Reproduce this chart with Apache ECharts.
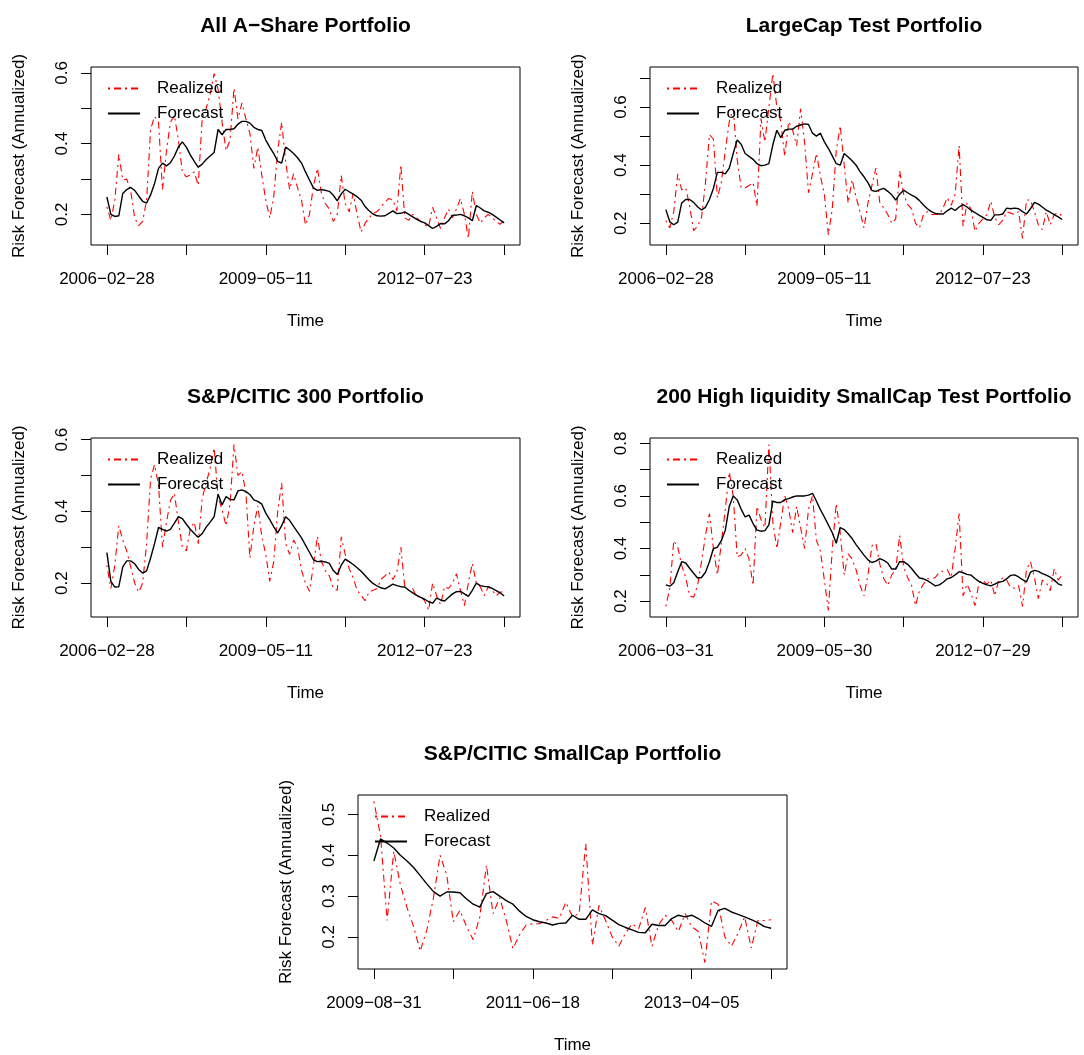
<!DOCTYPE html>
<html lang="en">
<head>
    <meta charset="UTF-8">
    <title>Risk Forecast vs Realized</title>
    <script src="https://cdn.jsdelivr.net/npm/echarts@6.0.0/dist/echarts.min.js"></script>
    <style>
        html, body { margin: 0; padding: 0; background: #fff; }
        #main { width: 1084px; height: 1055px; }
    </style>
</head>
<body>
<div id="main"></div>
<script type="application/javascript">
    var allAShareRealized = [
        0.221,0.183,0.240,0.370,0.297,0.300,0.265,0.190,0.168,0.180,
        0.240,0.440,0.477,0.460,0.270,0.380,0.460,0.480,0.410,0.320,
        0.306,0.311,0.320,0.282,0.472,0.500,0.540,0.598,0.553,0.460,
        0.380,0.410,0.557,0.470,0.515,0.470,0.429,0.330,0.390,0.310,
        0.240,0.190,0.250,0.380,0.460,0.350,0.270,0.315,0.275,0.240,
        0.170,0.200,0.280,0.330,0.260,0.230,0.215,0.180,0.200,0.310,
        0.230,0.207,0.259,0.200,0.150,0.175,0.190,0.202,0.208,0.220,
        0.235,0.245,0.240,0.210,0.340,0.190,0.183,0.200,0.190,0.180,
        0.170,0.165,0.220,0.190,0.160,0.190,0.215,0.190,0.215,0.245,
        0.200,0.132,0.265,0.200,0.175,0.190,0.200,0.190,0.180,0.172,
        0.183
    ];
    var allAShareForecast = [
        0.249,0.200,0.194,0.196,0.259,0.270,0.276,0.268,0.252,0.237,
        0.232,0.255,0.287,0.330,0.345,0.337,0.346,0.365,0.390,0.405,
        0.390,0.368,0.350,0.333,0.342,0.355,0.365,0.375,0.440,0.425,
        0.440,0.440,0.442,0.455,0.463,0.463,0.458,0.446,0.440,0.437,
        0.410,0.390,0.372,0.350,0.345,0.390,0.382,0.372,0.360,0.345,
        0.320,0.297,0.275,0.268,0.270,0.268,0.265,0.254,0.238,0.258,
        0.271,0.264,0.257,0.250,0.240,0.222,0.210,0.201,0.196,0.195,
        0.196,0.203,0.210,0.202,0.203,0.207,0.200,0.193,0.186,0.180,
        0.176,0.168,0.160,0.166,0.174,0.173,0.182,0.197,0.198,0.200,
        0.196,0.190,0.182,0.225,0.218,0.210,0.206,0.200,0.192,0.184,
        0.176
    ];
    var largeCapRealized = [
        0.210,0.184,0.240,0.370,0.315,0.322,0.260,0.175,0.190,0.220,
        0.340,0.505,0.490,0.288,0.340,0.450,0.550,0.594,0.420,0.322,
        0.322,0.330,0.340,0.259,0.560,0.480,0.600,0.715,0.600,0.550,
        0.430,0.550,0.520,0.467,0.594,0.480,0.305,0.370,0.440,0.363,
        0.300,0.160,0.250,0.450,0.536,0.400,0.270,0.350,0.290,0.240,
        0.184,0.270,0.330,0.390,0.270,0.253,0.230,0.200,0.215,0.380,
        0.300,0.265,0.250,0.200,0.184,0.230,0.240,0.230,0.230,0.230,
        0.255,0.288,0.262,0.300,0.467,0.190,0.270,0.250,0.172,0.200,
        0.215,0.230,0.276,0.220,0.195,0.210,0.240,0.235,0.230,0.240,
        0.148,0.280,0.280,0.240,0.195,0.178,0.240,0.195,0.230,0.236,
        0.225
    ];
    var largeCapForecast = [
        0.247,0.205,0.195,0.204,0.270,0.282,0.282,0.272,0.257,0.246,
        0.255,0.282,0.320,0.375,0.375,0.370,0.390,0.440,0.487,0.472,
        0.440,0.430,0.420,0.405,0.398,0.400,0.405,0.470,0.520,0.495,
        0.520,0.524,0.524,0.534,0.538,0.542,0.540,0.510,0.500,0.510,
        0.480,0.458,0.432,0.405,0.400,0.440,0.428,0.415,0.400,0.378,
        0.360,0.340,0.313,0.310,0.316,0.320,0.310,0.298,0.280,0.300,
        0.314,0.305,0.297,0.290,0.278,0.263,0.250,0.240,0.234,0.232,
        0.232,0.243,0.252,0.244,0.256,0.264,0.256,0.245,0.237,0.228,
        0.220,0.212,0.210,0.229,0.229,0.232,0.252,0.250,0.252,0.250,
        0.240,0.232,0.250,0.272,0.266,0.256,0.245,0.238,0.230,0.222,
        0.213
    ];
    var csi300Realized = [
        0.250,0.185,0.250,0.360,0.320,0.290,0.245,0.200,0.175,0.200,
        0.310,0.490,0.530,0.474,0.300,0.370,0.430,0.450,0.370,0.300,
        0.290,0.352,0.370,0.310,0.436,0.480,0.520,0.577,0.440,0.405,
        0.360,0.420,0.586,0.500,0.511,0.450,0.270,0.360,0.415,0.330,
        0.280,0.205,0.260,0.400,0.479,0.310,0.280,0.320,0.300,0.235,
        0.200,0.177,0.250,0.330,0.260,0.235,0.220,0.185,0.180,0.329,
        0.280,0.240,0.215,0.180,0.165,0.151,0.175,0.180,0.184,0.210,
        0.220,0.231,0.210,0.231,0.300,0.189,0.180,0.185,0.160,0.165,
        0.150,0.124,0.200,0.165,0.140,0.190,0.185,0.200,0.226,0.180,
        0.137,0.200,0.255,0.200,0.190,0.165,0.190,0.180,0.165,0.175,
        0.175
    ];
    var csi300Forecast = [
        0.285,0.205,0.189,0.190,0.245,0.262,0.262,0.254,0.238,0.228,
        0.234,0.270,0.310,0.355,0.350,0.345,0.350,0.367,0.385,0.380,
        0.364,0.350,0.338,0.328,0.338,0.356,0.370,0.385,0.448,0.418,
        0.441,0.433,0.432,0.457,0.460,0.455,0.447,0.432,0.428,0.420,
        0.395,0.377,0.357,0.340,0.360,0.385,0.375,0.358,0.342,0.326,
        0.306,0.286,0.265,0.260,0.261,0.259,0.255,0.235,0.224,0.250,
        0.267,0.260,0.252,0.243,0.233,0.221,0.209,0.199,0.192,0.187,
        0.184,0.190,0.197,0.193,0.190,0.189,0.180,0.173,0.166,0.160,
        0.155,0.148,0.144,0.158,0.153,0.150,0.160,0.170,0.176,0.177,
        0.170,0.163,0.180,0.200,0.193,0.191,0.190,0.185,0.179,0.173,
        0.164
    ];
    var smallCap200Realized = [
        0.180,0.250,0.430,0.406,0.336,0.290,0.220,0.215,0.260,0.350,
        0.450,0.533,0.400,0.300,0.420,0.550,0.690,0.600,0.368,0.375,
        0.400,0.360,0.260,0.560,0.510,0.480,0.795,0.500,0.400,0.500,
        0.600,0.550,0.460,0.560,0.480,0.400,0.550,0.600,0.430,0.390,
        0.280,0.165,0.400,0.571,0.460,0.300,0.380,0.360,0.320,0.260,
        0.220,0.300,0.410,0.420,0.340,0.285,0.260,0.300,0.320,0.450,
        0.330,0.290,0.260,0.183,0.240,0.265,0.285,0.285,0.290,0.310,
        0.315,0.320,0.290,0.400,0.533,0.220,0.265,0.230,0.183,0.270,
        0.280,0.265,0.280,0.220,0.280,0.288,0.280,0.250,0.250,0.260,
        0.180,0.320,0.350,0.290,0.210,0.280,0.270,0.240,0.323,0.280,
        0.300
    ];
    var smallCap200Forecast = [
        0.262,0.257,0.270,0.312,0.350,0.345,0.325,0.306,0.288,0.290,
        0.310,0.350,0.400,0.405,0.430,0.470,0.560,0.600,0.585,0.550,
        0.520,0.527,0.495,0.470,0.466,0.468,0.490,0.580,0.575,0.575,
        0.586,0.590,0.596,0.600,0.600,0.600,0.603,0.610,0.580,0.548,
        0.520,0.490,0.460,0.420,0.480,0.472,0.456,0.438,0.415,0.395,
        0.375,0.357,0.347,0.352,0.362,0.355,0.345,0.322,0.322,0.350,
        0.350,0.340,0.324,0.305,0.288,0.285,0.278,0.268,0.258,0.262,
        0.272,0.285,0.290,0.300,0.312,0.308,0.302,0.299,0.286,0.275,
        0.268,0.262,0.258,0.265,0.272,0.275,0.285,0.298,0.300,0.292,
        0.282,0.273,0.310,0.317,0.313,0.305,0.299,0.291,0.280,0.266,
        0.260
    ];
    var smallCapRealized = [
        0.532,0.448,0.240,0.410,0.328,0.272,0.225,0.165,0.217,0.296,
        0.400,0.352,0.237,0.265,0.225,0.193,0.249,0.376,0.257,0.296,
        0.240,0.171,0.205,0.229,0.232,0.232,0.240,0.249,0.245,0.285,
        0.249,0.257,0.428,0.180,0.277,0.240,0.200,0.177,0.209,0.232,
        0.220,0.272,0.177,0.229,0.253,0.240,0.213,0.257,0.225,0.213,
        0.137,0.288,0.280,0.200,0.177,0.209,0.249,0.173,0.240,0.240,
        0.242
    ];
    var smallCapForecast = [
        0.386,0.440,0.430,0.418,0.400,0.386,0.370,0.350,0.330,0.311,
        0.300,0.310,0.310,0.308,0.293,0.280,0.273,0.306,0.311,0.300,
        0.289,0.280,0.263,0.250,0.242,0.237,0.234,0.229,0.233,0.234,
        0.253,0.243,0.243,0.266,0.257,0.252,0.241,0.230,0.223,0.217,
        0.211,0.210,0.231,0.228,0.228,0.245,0.253,0.249,0.253,0.245,
        0.234,0.226,0.265,0.270,0.261,0.255,0.249,0.242,0.235,0.225,
        0.221
    ];

    // tick positions (observation index) and the dates printed under them
    var monthlyTicks = [0, 20, 40, 60, 80, 100];
    var smallCapTicks = [0, 12, 24, 36, 48, 60];
    var datesFeb2006 = ['2006-02-28', '2009-05-11', '2012-07-23'];
    var datesMar2006 = ['2006-03-31', '2009-05-30', '2012-07-29'];
    var datesAug2009 = ['2009-08-31', '2011-06-18', '2013-04-05'];

    var panels = [
        {title: 'All A\u2212Share Portfolio', realized: allAShareRealized, forecast: allAShareForecast,
            xTicks: monthlyTicks, dates: datesFeb2006, yTicks: [0.2, 0.3, 0.4, 0.5, 0.6], yLabels: [0.2, 0.4, 0.6]},
        {title: 'LargeCap Test Portfolio', realized: largeCapRealized, forecast: largeCapForecast,
            xTicks: monthlyTicks, dates: datesFeb2006, yTicks: [0.2, 0.3, 0.4, 0.5, 0.6, 0.7], yLabels: [0.2, 0.4, 0.6]},
        {title: 'S&P/CITIC 300 Portfolio', realized: csi300Realized, forecast: csi300Forecast,
            xTicks: monthlyTicks, dates: datesFeb2006, yTicks: [0.2, 0.3, 0.4, 0.5, 0.6], yLabels: [0.2, 0.4, 0.6]},
        {title: '200 High liquidity SmallCap Test Portfolio', realized: smallCap200Realized, forecast: smallCap200Forecast,
            xTicks: monthlyTicks, dates: datesMar2006, yTicks: [0.2, 0.3, 0.4, 0.5, 0.6, 0.7, 0.8], yLabels: [0.2, 0.4, 0.6, 0.8]},
        {title: 'S&P/CITIC SmallCap Portfolio', realized: smallCapRealized, forecast: smallCapForecast,
            xTicks: smallCapTicks, dates: datesAug2009, yTicks: [0.2, 0.3, 0.4, 0.5], yLabels: [0.2, 0.3, 0.4, 0.5]}
    ];

    // plot boxes in page pixels
    var boxes = [
        {left: 91, top: 67, width: 429, height: 178},
        {left: 650, top: 67, width: 428, height: 178},
        {left: 91, top: 438, width: 429, height: 179},
        {left: 650, top: 438, width: 428, height: 179},
        {left: 358, top: 795, width: 429, height: 179}
    ];

    var FONT = '"Liberation Sans", Arial, Helvetica, sans-serif';

    // R style range: data range padded 4% each side
    function padMin(v) { return v.min - 0.04 * (v.max - v.min); }
    function padMax(v) { return v.max + 0.04 * (v.max - v.min); }

    var myChart = echarts.init(document.getElementById('main'), null, {renderer: 'canvas'});

    var option = {
        animation: false,
        backgroundColor: '#fff',
        title: [], legend: [], grid: [], xAxis: [], yAxis: [], series: []
    };

    panels.forEach(function (p, k) {
        var b = boxes[k];
        var labelIdx = [p.xTicks[0], p.xTicks[2], p.xTicks[4]];

        option.grid.push({
            left: b.left, top: b.top, width: b.width, height: b.height,
            show: true, borderColor: '#000', borderWidth: 1, backgroundColor: 'transparent'
        });
        option.title.push({
            text: p.title,
            left: b.left + b.width / 2,
            top: b.top - 51,
            textAlign: 'center',
            padding: 0,
            textStyle: {fontFamily: FONT, fontSize: 21, fontWeight: 'bold', color: '#000'}
        });
        option.legend.push({
            data: ['Realized', 'Forecast'],
            orient: 'vertical',
            left: b.left + 16,
            top: b.top + 13,
            padding: 0,
            itemWidth: 32,
            itemHeight: 14,
            itemGap: 8,
            selectedMode: false,
            itemStyle: {opacity: 0},
            textStyle: {fontFamily: FONT, fontSize: 17, color: '#000', padding: [0, 0, 0, 12]}
        });
        option.xAxis.push({
            gridIndex: k,
            type: 'value',
            min: padMin,
            max: padMax,
            name: 'Time',
            nameLocation: 'middle',
            nameGap: 68,
            nameMoveOverlap: false,
            nameTextStyle: {fontFamily: FONT, fontSize: 17, color: '#000'},
            axisLine: {show: false, onZero: false},
            splitLine: {show: false},
            axisTick: {show: true, length: 10, customValues: p.xTicks, lineStyle: {color: '#000', width: 1}},
            axisLabel: {
                customValues: labelIdx,
                margin: 26,
                fontFamily: FONT, fontSize: 17, color: '#000',
                formatter: function (v) {
                    var d = p.dates[labelIdx.indexOf(v)];
                    return d ? d.replace(/-/g, '\u2212') : '';
                }
            }
        });
        option.yAxis.push({
            gridIndex: k,
            type: 'value',
            min: padMin,
            max: padMax,
            name: 'Risk Forecast (Annualized)',
            nameLocation: 'middle',
            nameGap: 63,
            nameMoveOverlap: false,
            nameTextStyle: {fontFamily: FONT, fontSize: 17, color: '#000'},
            axisLine: {show: false, onZero: false},
            splitLine: {show: false},
            axisTick: {show: true, length: 10, customValues: p.yTicks, lineStyle: {color: '#000', width: 1}},
            axisLabel: {
                customValues: p.yLabels,
                rotate: 90,
                margin: 20,
                fontFamily: FONT, fontSize: 17, color: '#000',
                formatter: function (v) { return v.toFixed(1); }
            }
        });
        option.series.push({
            name: 'Realized',
            type: 'line',
            xAxisIndex: k, yAxisIndex: k,
            data: p.realized.map(function (v, i) { return [i, v]; }),
            symbol: 'none',
            silent: true,
            z: 2,
            itemStyle: {color: '#ff0000'},
            lineStyle: {color: '#ff0000', width: 1.1, type: [2, 4, 7, 4]}
        });
        option.series.push({
            name: 'Forecast',
            type: 'line',
            xAxisIndex: k, yAxisIndex: k,
            data: p.forecast.map(function (v, i) { return [i, v]; }),
            symbol: 'none',
            silent: true,
            z: 3,
            itemStyle: {color: '#000'},
            lineStyle: {color: '#000', width: 1.4}
        });
    });

    myChart.setOption(option);
</script>
</body>
</html>
